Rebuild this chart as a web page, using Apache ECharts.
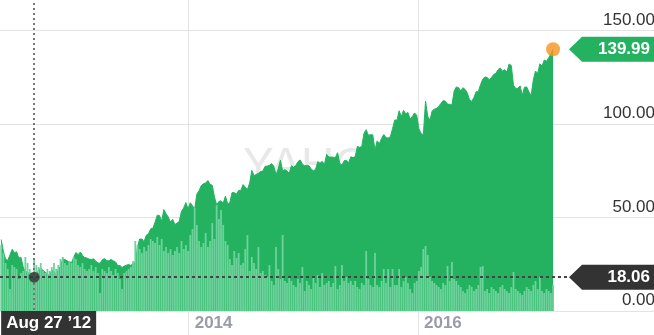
<!DOCTYPE html>
<html><head><meta charset="utf-8">
<script src="https://cdn.jsdelivr.net/npm/echarts@6/dist/echarts.min.js"></script>
<style>html,body{margin:0;padding:0;background:#fff;overflow:hidden}#c{width:654px;height:335px}</style>
</head><body><div id="c"></div>
<script>
// ---- DATA (weekly, week starting Monday) ----
const startDate = '2012-05-14';
const prices = [
38.23,31.91,27.72,27.10,30.01,33.05,31.10,31.73,28.25,28.76,23.71,20.88,21.01,19.05,19.41,18.06,18.98,22.00,22.86,21.66,20.91,19.52,19.00,21.94,21.18,19.21,22.36,24.00,28.00,27.49,26.81,26.26,25.91,28.76,
31.30,30.14,31.54,29.73,28.55,28.32,27.76,27.46,27.96,26.65,25.73,25.58,27.39,28.02,26.85,26.85,27.57,26.82,26.25,24.31,24.35,23.29,24.03,24.53,24.88,24.37,25.48,25.88,34.36,38.50,38.50,37.08,40.55,41.29,43.95,44.31,47.49,51.24,51.04,48.05,54.22,51.95,50.23,47.53,49.01,46.23,47.01,47.94,53.32,55.12,57.96,54.56,
57.94,56.30,54.45,62.57,64.32,67.09,68.06,68.46,69.80,67.72,67.24,60.97,56.75,58.53,58.94,57.71,61.48,57.24,58.02,63.30,63.30,62.50,64.50,64.50,67.60,66.29,64.97,68.42,75.19,72.36,73.06,73.63,74.57,74.82,77.26,77.48,77.91,78.79,77.44,72.91,75.95,80.67,74.99,75.60,74.88,73.60,77.70,76.84,77.83,79.88,80.78,78.45,
77.74,77.83,77.65,75.91,74.99,75.74,79.90,78.97,80.01,78.05,83.80,82.32,82.32,82.28,82.04,84.63,78.79,78.10,80.41,80.55,79.19,82.44,82.02,82.51,88.01,87.55,87.95,94.97,96.95,94.01,94.30,94.21,86.06,91.01,89.43,92.31,94.40,92.77,92.47,93.24,97.54,102.19,101.97,107.10,103.95,107.32,105.45,106.18,102.61,104.04,105.93,104.66,
97.33,94.97,94.16,112.21,104.07,102.01,106.95,107.92,108.39,109.41,111.02,112.54,112.22,110.63,110.51,110.10,117.58,119.81,119.49,117.65,119.38,118.47,116.62,113.02,112.08,114.19,117.24,117.29,121.00,123.94,125.15,124.96,123.56,124.91,126.51,127.10,129.07,129.94,128.27,128.99,127.88,132.07,131.29,120.75,119.02,119.12,120.38,115.40,119.68,119.85,117.27,115.05,
123.41,128.34,127.04,132.18,130.98,134.19,133.53,135.44,137.42,139.99
];
// weekly volume, millions of shares
const volumes = [
660,580,480,420,220,460,440,420,320,380,
400,540,480,420,380,520,460,440,480,400,
380,420,400,440,480,420,460,520,540,480,
460,500,480,540,520,460,440,480,420,400,
420,460,400,440,380,180,420,400,380,440,
400,360,420,380,320,220,380,400,420,440,
500,700,660,620,580,640,600,660,720,700,
680,740,660,720,600,640,580,620,560,600,
640,580,700,620,660,600,760,820,1030,860,
700,640,680,780,640,700,880,720,1060,920,
1010,860,700,660,520,460,600,530,580,460,
480,620,760,400,540,480,420,640,380,400,
360,340,460,300,260,640,420,320,760,300,
280,340,300,260,240,320,280,440,200,300,
260,220,340,280,360,240,380,260,280,300,
240,280,450,220,260,460,300,340,280,300,
260,300,240,220,280,260,600,320,260,240,
580,260,240,300,420,280,420,240,420,260,
260,420,240,300,340,280,220,180,280,300,
400,440,620,650,560,340,300,280,260,240,
220,280,260,450,300,490,320,300,260,240,
200,180,220,260,240,200,220,260,440,450,
200,220,180,240,220,200,180,240,260,220,
200,180,240,390,220,200,180,160,200,240,
220,200,260,300,220,340,200,180,220,200,
180,260
];
const yTicks = [0, 50, 100, 150];
const xTickDates = ['2014-01-01', '2016-01-01'];
const xTickLabels = ['2014', '2016'];
const crossDate = '2012-08-27';
const crossValue = 18.06;
const watermark = 'YAHOO!';

// ---- BUILD ----
const DAY = 86400000;
const t0 = Date.parse(startDate + 'T00:00:00Z');
const dates = prices.map((_, i) => t0 + i * 7 * DAY);
const lastT = dates[dates.length - 1];
const lastPrice = prices[prices.length - 1];
const crossT = Date.parse(crossDate + 'T00:00:00Z');
const xTickTs = xTickDates.map(d => Date.parse(d + 'T00:00:00Z'));

// layout: x calibrated so the two year lines sit at 188.7px and 418px; price 0 at y=311, 150 at y=30.5
const W = 654, H = 335, tick1Px = 188.7, tick2Px = 418, zeroPx = 311, topTickPx = 30.5;
const msPerPx = (xTickTs[1] - xTickTs[0]) / (tick2Px - tick1Px);
const xMin = Math.min(t0, xTickTs[0] - tick1Px * msPerPx);
const xMax = xMin + W * msPerPx;
const pxPerUnit = (zeroPx - topTickPx) / yTicks[yTicks.length - 1];
const yMin = -(H - zeroPx) / pxPerUnit;
const yMax = zeroPx / pxPerUnit;
const volPerPx = 10;
const vMin = -(H - zeroPx) * volPerPx, vMax = zeroPx * volPerPx;

const GREEN = '#24b260', LIGHT = '#6dd29b', DARK = '#333333', ORANGE = '#f7941d';
const FONT = "'Liberation Sans', Arial, sans-serif";
const MON = ['Jan','Feb','Mar','Apr','May','Jun','Jul','Aug','Sep','Oct','Nov','Dec'];
const cd = new Date(crossT);
const crossLabel = MON[cd.getUTCMonth()] + ' ' + cd.getUTCDate() + ' \u2019' + String(cd.getUTCFullYear()).slice(2);
const arrowPath = 'path://M0,12.5L13,0L95,0L95,25L13,25Z';
const boxLbl = {show: true, position: [81, 12.5], align: 'right', verticalAlign: 'middle',
                color: '#fff', fontSize: 17, fontWeight: 'bold', fontFamily: FONT};

const chart = echarts.init(document.getElementById('c'), null, {renderer: 'canvas'});
chart.setOption({
  animation: false,
  textStyle: {fontFamily: FONT},
  grid: {left: 0, right: 0, top: 0, bottom: 0, containLabel: false, outerBoundsMode: 'none'},
  graphic: [{
    type: 'text', left: 243, top: 144, z: 0, silent: true,
    style: {text: watermark, fill: '#e8e8e8', font: 'normal 46px ' + FONT}
  }],
  xAxis: {
    type: 'value', min: xMin, max: xMax,
    axisLine: {show: false},
    axisTick: {show: false, customValues: xTickTs},
    axisLabel: {
      inside: true, customValues: xTickTs,
      formatter: v => xTickLabels[xTickTs.indexOf(v)] || '',
      align: 'left', verticalAlign: 'bottom', padding: [0, 0, 0, 6], margin: 3,
      color: '#9a9bab', fontWeight: 'bold', fontSize: 17, fontFamily: FONT
    },
    splitLine: {show: true, lineStyle: {color: '#e3e3e3', width: 1}}
  },
  yAxis: [{
    type: 'value', position: 'right', min: yMin, max: yMax,
    axisLine: {show: false},
    axisTick: {show: false, customValues: yTicks},
    axisLabel: {
      inside: true, customValues: yTicks, formatter: v => Number(v).toFixed(2),
      verticalAlign: 'bottom', margin: -1, padding: [0, 0, 2, 0],
      color: '#333', fontSize: 17, fontFamily: FONT
    },
    splitLine: {show: true, lineStyle: {color: '#e3e3e3', width: 1}}
  }, {
    type: 'value', min: vMin, max: vMax, show: false, splitLine: {show: false}
  }],
  series: [{
    type: 'line', name: 'Price', z: 1, silent: true,
    data: dates.map((d, i) => [d, prices[i]]),
    symbol: 'none', showSymbol: false,
    lineStyle: {color: GREEN, width: 1},
    areaStyle: {color: GREEN, opacity: 1}
  }, {
    type: 'bar', name: 'Volume', yAxisIndex: 1, z: 2, silent: true,
    data: dates.map((d, i) => [d, volumes[i]]),
    barWidth: 1.8, itemStyle: {color: LIGHT}
  }, {
    type: 'scatter', name: 'marks', z: 10, silent: true,
    data: [
      {value: [crossT, crossValue], symbolSize: 11, itemStyle: {color: DARK}},
      {value: [lastT, lastPrice], symbolSize: 14, itemStyle: {color: ORANGE}}
    ],
    markLine: {
      silent: true, z: 5, symbol: ['none', 'none'],
      label: {show: false},
      data: [
        {xAxis: crossT, lineStyle: {color: '#777', type: [2, 3], width: 2}},
        {yAxis: crossValue, lineStyle: {color: '#444', type: [3, 3], width: 2}}
      ]
    },
    markPoint: {
      silent: true, z: 12,
      data: [{
        coord: [xMax, lastPrice], symbol: arrowPath, symbolSize: [95, 25], symbolOffset: [-37.5, 0], symbolKeepAspect: false,
        itemStyle: {color: GREEN}, label: Object.assign({formatter: lastPrice.toFixed(2)}, boxLbl)
      }, {
        coord: [xMax, crossValue], symbol: arrowPath, symbolSize: [95, 25], symbolOffset: [-37.5, 0], symbolKeepAspect: false,
        itemStyle: {color: DARK}, label: Object.assign({formatter: crossValue.toFixed(2)}, boxLbl)
      }, {
        coord: [crossT, yMin], symbol: 'rect', symbolSize: [95, 24], symbolOffset: [14.5, -12],
        itemStyle: {color: DARK},
        label: {show: true, formatter: crossLabel, position: 'inside',
                color: '#fff', fontSize: 17, fontWeight: 'bold', fontFamily: FONT}
      }]
    }
  }]
});
</script>
</body></html>
